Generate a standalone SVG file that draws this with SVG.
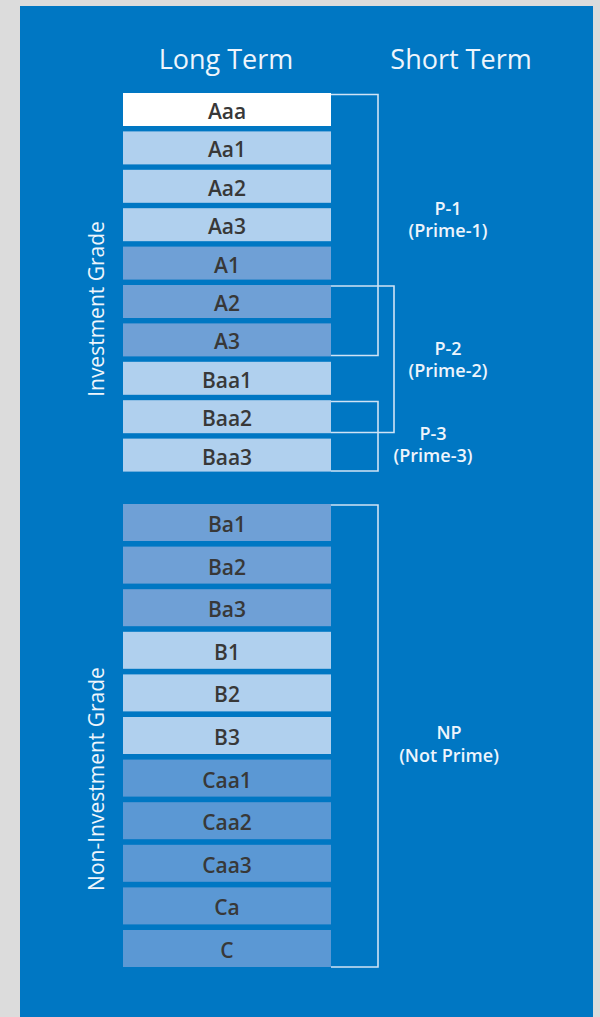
<svg xmlns="http://www.w3.org/2000/svg" width="600" height="1017" viewBox="0 0 600 1017">
<style>
.hd{font-family:"Open Sans","Noto Sans",sans-serif;font-size:27px;fill:#eef5fc;text-anchor:middle}
.lb{font-family:"Open Sans","Noto Sans",sans-serif;font-size:21px;font-weight:600;fill:#383838;text-anchor:middle;dominant-baseline:central}
.st{font-family:"Open Sans","Noto Sans",sans-serif;font-size:18px;font-weight:600;fill:#eef5fc;text-anchor:middle}
.sd{font-family:"Open Sans","Noto Sans",sans-serif;font-size:21px;fill:#eef5fc;text-anchor:middle}
.w{fill:#ffffff}.l{fill:#b0d0ee}.m{fill:#6fa0d6}.d{fill:#5b98d4}
.br{fill:none;stroke:#cfe3f5;stroke-width:1.6}
</style>
<rect x="0" y="0" width="600" height="1017" fill="#dcdcdc"/>
<rect x="20" y="6" width="573" height="1011" fill="#0077c3"/>
<text class="hd" x="226" y="69">Long Term</text>
<text class="hd" x="461" y="69">Short Term</text>
<text class="sd" transform="translate(104,309) rotate(-90)">Investment Grade</text>
<text class="sd" transform="translate(104,779) rotate(-90)">Non-Investment Grade</text>
<g id="Aaa"><rect class="w" x="123" y="93" width="208" height="33"/><text class="lb" x="227" y="111">Aaa</text></g>
<g id="Aa1"><rect class="l" x="123" y="131.4" width="208" height="33"/><text class="lb" x="227" y="149.4">Aa1</text></g>
<g id="Aa2"><rect class="l" x="123" y="169.8" width="208" height="33"/><text class="lb" x="227" y="187.8">Aa2</text></g>
<g id="Aa3"><rect class="l" x="123" y="208.2" width="208" height="33"/><text class="lb" x="227" y="226.2">Aa3</text></g>
<g id="A1"><rect class="m" x="123" y="246.6" width="208" height="33"/><text class="lb" x="227" y="264.6">A1</text></g>
<g id="A2"><rect class="m" x="123" y="285" width="208" height="33"/><text class="lb" x="227" y="303">A2</text></g>
<g id="A3"><rect class="m" x="123" y="323.4" width="208" height="33"/><text class="lb" x="227" y="341.4">A3</text></g>
<g id="Baa1"><rect class="l" x="123" y="361.8" width="208" height="33"/><text class="lb" x="227" y="379.8">Baa1</text></g>
<g id="Baa2"><rect class="l" x="123" y="400.2" width="208" height="33"/><text class="lb" x="227" y="418.2">Baa2</text></g>
<g id="Baa3"><rect class="l" x="123" y="438.6" width="208" height="33"/><text class="lb" x="227" y="456.6">Baa3</text></g>
<g id="Ba1"><rect class="m" x="123" y="504" width="208" height="37"/><text class="lb" x="227" y="524">Ba1</text></g>
<g id="Ba2"><rect class="m" x="123" y="546.6" width="208" height="37"/><text class="lb" x="227" y="566.6">Ba2</text></g>
<g id="Ba3"><rect class="m" x="123" y="589.2" width="208" height="37"/><text class="lb" x="227" y="609.2">Ba3</text></g>
<g id="B1"><rect class="l" x="123" y="631.8" width="208" height="37"/><text class="lb" x="227" y="651.8">B1</text></g>
<g id="B2"><rect class="l" x="123" y="674.4" width="208" height="37"/><text class="lb" x="227" y="694.4">B2</text></g>
<g id="B3"><rect class="l" x="123" y="717" width="208" height="37"/><text class="lb" x="227" y="737">B3</text></g>
<g id="Caa1"><rect class="d" x="123" y="759.6" width="208" height="37"/><text class="lb" x="227" y="779.6">Caa1</text></g>
<g id="Caa2"><rect class="d" x="123" y="802.2" width="208" height="37"/><text class="lb" x="227" y="822.2">Caa2</text></g>
<g id="Caa3"><rect class="d" x="123" y="844.8" width="208" height="37"/><text class="lb" x="227" y="864.8">Caa3</text></g>
<g id="Ca"><rect class="d" x="123" y="887.4" width="208" height="37"/><text class="lb" x="227" y="907.4">Ca</text></g>
<g id="C"><rect class="d" x="123" y="930" width="208" height="37"/><text class="lb" x="227" y="950">C</text></g>
<g id="connectors">
<path class="br" d="M331,94.5 H378 V355.5 H331"/>
<path class="br" d="M331,286 H394 V432.5 H331"/>
<path class="br" d="M331,401.5 H378 V471 H331"/>
<path class="br" d="M331,505 H378 V967 H331"/>
</g>
<g id="P1"><text class="st" x="448" y="215">P-1</text><text class="st" x="448" y="237">(Prime-1)</text></g>
<g id="P2"><text class="st" x="448" y="355">P-2</text><text class="st" x="448" y="377">(Prime-2)</text></g>
<g id="P3"><text class="st" x="433" y="440">P-3</text><text class="st" x="433" y="462">(Prime-3)</text></g>
<g id="NP"><text class="st" x="449" y="739">NP</text><text class="st" x="449" y="762">(Not Prime)</text></g>
</svg>
